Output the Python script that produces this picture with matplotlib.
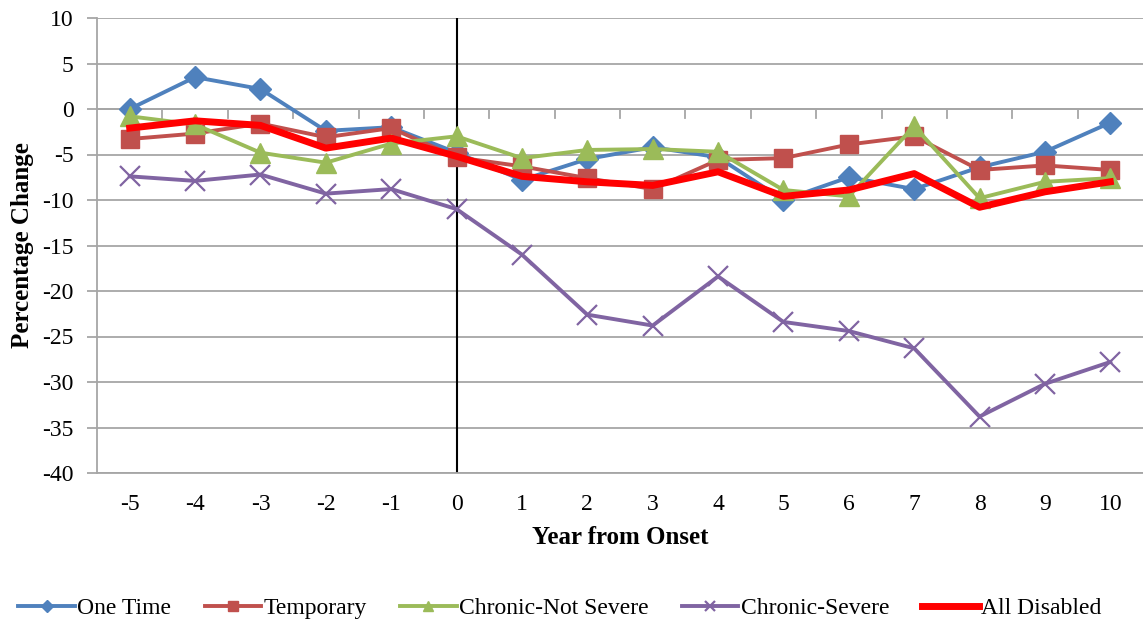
import matplotlib.pyplot as plt

plt.rcParams['font.family'] = ['Liberation Serif', 'DejaVu Serif']
plt.rcParams['axes.unicode_minus'] = False

years = [-5, -4, -3, -2, -1, 0, 1, 2, 3, 4, 5, 6, 7, 8, 9, 10]

one_time = [0.0, 3.5, 2.2, -2.4, -2.0, -4.8, -7.8, -5.5, -4.2, -5.3, -10.0, -7.5, -8.8, -6.4, -4.7, -1.5]
temporary = [-3.3, -2.7, -1.6, -3.1, -2.1, -5.3, -6.3, -7.6, -8.8, -5.6, -5.4, -3.9, -3.0, -6.7, -6.2, -6.7]
chronic_not_severe = [-0.8, -1.7, -4.8, -5.9, -3.8, -3.0, -5.4, -4.5, -4.4, -4.7, -8.9, -9.6, -1.9, -9.8, -8.0, -7.6]
chronic_severe = [-7.4, -7.9, -7.2, -9.3, -8.8, -11.0, -16.0, -22.6, -23.8, -18.4, -23.4, -24.4, -26.3, -33.8, -30.2, -27.8]
all_disabled = [-2.1, -1.3, -1.8, -4.3, -3.2, -5.2, -7.4, -8.0, -8.4, -6.9, -9.6, -8.9, -7.1, -10.8, -9.1, -8.0]

fig = plt.figure(figsize=(11.43, 6.27), dpi=100)
ax = fig.add_axes([97 / 1143, 1 - 473 / 627, 1 - 97 / 1143, 455 / 627])

ax.plot(years, one_time, color='#4F81BD', lw=2.8, marker='D', ms=11, label='One Time', zorder=3)
ax.plot(years, temporary, color='#C0504D', lw=2.8, marker='s', ms=13, label='Temporary', zorder=3)
ax.plot(years, chronic_not_severe, color='#9BBB59', lw=2.8, marker='^', ms=14, label='Chronic-Not Severe', zorder=3)
ax.plot(years, chronic_severe, color='#8064A2', lw=2.8, marker='x', ms=14, mew=1.6, label='Chronic-Severe', zorder=3)
ax.plot(years, all_disabled, color='#FF0000', lw=5, label='All Disabled', zorder=4)

ax.axvline(0, color='black', lw=1.5, zorder=2)

ax.set_xlim(-5.5, 10.5)
ax.set_ylim(-40, 10)
ax.set_yticks(range(-40, 11, 5))
ax.yaxis.grid(True, color='#A6A6A6', lw=1.3)
ax.set_axisbelow(True)

# category axis crosses at zero, labels stay at the bottom
ax.set_xticks(years)
ax.tick_params(axis='x', length=0, pad=15, labelsize=17)
ax.tick_params(axis='y', length=7, color='#A6A6A6', width=1.3, labelsize=17, pad=10)
ax.axhline(0, color='#A6A6A6', lw=1.3, zorder=1)
for xb in [y + 0.5 for y in years[:-1]]:
    ax.plot([xb, xb], [0, -1.0], color='#A6A6A6', lw=1.3, zorder=1)

for side in ['top', 'right']:
    ax.spines[side].set_visible(False)
for side in ['left', 'bottom']:
    ax.spines[side].set_color('#A6A6A6')
    ax.spines[side].set_linewidth(1.3)

ax.set_xlabel('Year from Onset', fontsize=18, fontweight='bold', labelpad=8)
ax.set_ylabel('Percentage Change', fontsize=18, fontweight='bold', labelpad=6)

handles, labels = ax.get_legend_handles_labels()
fig.legend(handles, labels, loc='center', bbox_to_anchor=(0.49, 1 - 608 / 627), ncol=5,
           frameon=False, fontsize=17, handlelength=2.4, handletextpad=0.1,
           columnspacing=1.4, markerscale=0.55)

fig.savefig('out.png', dpi=100)
